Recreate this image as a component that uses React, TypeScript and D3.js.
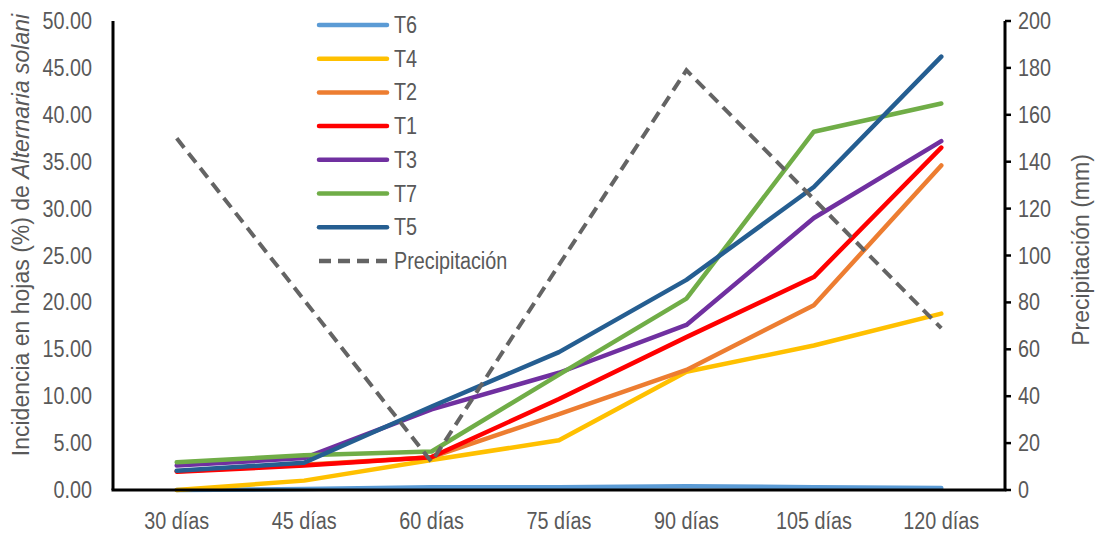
import React from "react";
import * as d3 from "d3";

const categories = ["30 días", "45 días", "60 días", "75 días", "90 días", "105 días", "120 días"];
const T6 = [0.0, 0.1, 0.3, 0.3, 0.4, 0.3, 0.2];
const T4 = [0.0, 1.0, 3.2, 5.3, 12.6, 15.4, 18.8];
const T2 = [2.0, 2.7, 3.5, 8.1, 12.8, 19.7, 34.6];
const T1 = [1.95, 2.6, 3.5, 9.7, 16.3, 22.7, 36.5];
const T3 = [2.6, 3.4, 8.6, 12.5, 17.6, 29.0, 37.2];
const T7 = [2.95, 3.7, 4.1, 12.3, 20.4, 38.2, 41.2];
const T5 = [2.05, 2.9, 8.9, 14.7, 22.4, 32.3, 46.2];
const precipitacion = [150, 81, 12, 96, 179, 124, 69];
const leftTicks = [0, 5, 10, 15, 20, 25, 30, 35, 40, 45, 50];
const rightTicks = [0, 20, 40, 60, 80, 100, 120, 140, 160, 180, 200];

const series = [
  { name: "T6", values: T6, color: "#5B9BD5" },
  { name: "T4", values: T4, color: "#FFC000" },
  { name: "T2", values: T2, color: "#ED7D31" },
  { name: "T1", values: T1, color: "#FF0000" },
  { name: "T3", values: T3, color: "#7030A0" },
  { name: "T7", values: T7, color: "#70AD47" },
  { name: "T5", values: T5, color: "#255E91" },
];

const W = 1104;
const H = 533;
const L = 113;
const R = 1005;
const TOP = 21;
const BOT = 490;
const FONT = "'Liberation Sans', Arial, sans-serif";
const TXT = "#595959";
const FS = 23;
const SX = 0.86;

function Txt(props: { x: number; y: number; anchor?: string; children: React.ReactNode }) {
  return (
    <text
      transform={`translate(${props.x},${props.y}) scale(${SX},1)`}
      dy="0.35em"
      textAnchor={props.anchor || "start"}
      fontSize={FS}
      fill={TXT}
    >
      {props.children}
    </text>
  );
}

export default function App() {
  const x = d3.scalePoint<string>().domain(categories).range([L, R]).padding(0.5);
  const yL = d3.scaleLinear().domain([0, 50]).range([BOT, TOP]);
  const yR = d3.scaleLinear().domain([0, 200]).range([BOT, TOP]);
  const lineL = d3
    .line<number>()
    .x((_, i) => x(categories[i]) as number)
    .y((d) => yL(d));
  const lineR = d3
    .line<number>()
    .x((_, i) => x(categories[i]) as number)
    .y((d) => yR(d));

  const legendItems = [
    ...series.map((s) => ({ name: s.name, color: s.color, dash: false })),
    { name: "Precipitación", color: "#646464", dash: true },
  ];

  return (
    <svg width={W} height={H} style={{ position: "absolute", left: 0, top: 0, background: "#fff" }} fontFamily={FONT}>
      <rect x={0} y={0} width={W} height={H} fill="#fff" />
      {leftTicks.map((t) => (
        <Txt key={"l" + t} x={92} y={yL(t)} anchor="end">
          {t.toFixed(2)}
        </Txt>
      ))}
      {rightTicks.map((t) => (
        <g key={"r" + t}>
          <line x1={R} x2={R + 6} y1={yR(t)} y2={yR(t)} stroke="#000" strokeWidth={2.5} />
          <Txt x={1018} y={yR(t)}>{t}</Txt>
        </g>
      ))}
      {categories.map((c) => (
        <Txt key={c} x={x(c) as number} y={521} anchor="middle">
          {c}
        </Txt>
      ))}
      <text transform={`translate(29,235) rotate(-90)`} textAnchor="middle" fontSize={23} fill={TXT}>
        Incidencia en hojas (%) de <tspan fontStyle="italic">Alternaria solani</tspan>
      </text>
      <text transform={`translate(1089,250) rotate(-90)`} textAnchor="middle" fontSize={23} fill={TXT}>
        Precipitación (mm)
      </text>
      {series.map((s) => (
        <path
          key={s.name}
          d={lineL(s.values) || ""}
          fill="none"
          stroke={s.color}
          strokeWidth={4.5}
          strokeLinejoin="round"
          strokeLinecap="round"
        />
      ))}
      <path d={lineR(precipitacion) || ""} fill="none" stroke="#646464" strokeWidth={4} strokeDasharray="12 7" />
      <line x1={L} x2={L} y1={TOP} y2={BOT} stroke="#000" strokeWidth={3} />
      <line x1={L - 1.5} x2={R + 1.5} y1={BOT} y2={BOT} stroke="#000" strokeWidth={3} />
      <line x1={R} x2={R} y1={TOP} y2={BOT} stroke="#000" strokeWidth={3} />
      {legendItems.map((it, i) => {
        const yy = 25 + i * 33.7;
        return (
          <g key={it.name}>
            <line
              x1={319}
              x2={387}
              y1={yy}
              y2={yy}
              stroke={it.color}
              strokeWidth={4.5}
              strokeLinecap={it.dash ? "butt" : "round"}
              strokeDasharray={it.dash ? "12 7" : undefined}
            />
            <Txt x={394} y={yy}>{it.name}</Txt>
          </g>
        );
      })}
    </svg>
  );
}
